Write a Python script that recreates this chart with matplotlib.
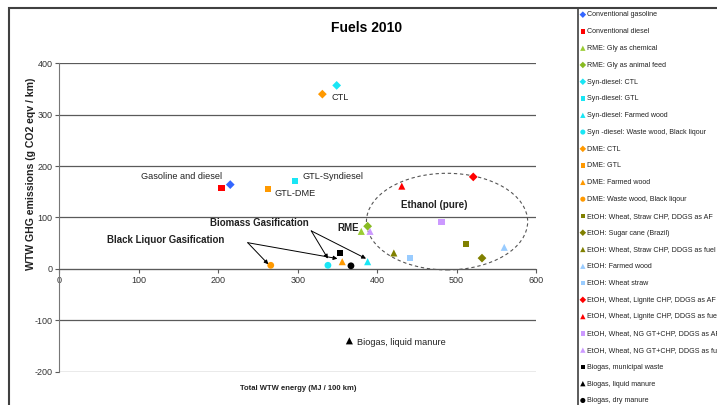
import matplotlib
matplotlib.use("Agg")
import matplotlib.pyplot as plt
from matplotlib.patches import Ellipse, Rectangle
from matplotlib.lines import Line2D

plt.rcParams['font.family'] = ['Liberation Sans', 'DejaVu Sans']
plt.rcParams['axes.unicode_minus'] = False

# series (legend order): label, x = total WTW energy, y = WTW GHG
labels = [
    "Conventional gasoline", "Conventional diesel",
    "RME: Gly as chemical", "RME: Gly as animal feed",
    "Syn-diesel: CTL", "Syn-diesel: GTL", "Syn-diesel: Farmed wood",
    "Syn -diesel: Waste wood, Black liqour",
    "DME: CTL", "DME: GTL", "DME: Farmed wood", "DME: Waste wood, Black liqour",
    "EtOH: Wheat, Straw CHP, DDGS as AF", "EtOH: Sugar cane (Brazil)",
    "EtOH: Wheat, Straw CHP, DDGS as fuel", "EtOH: Farmed wood", "EtOH: Wheat straw",
    "EtOH, Wheat, Lignite CHP, DDGS as AF", "EtOH, Wheat, Lignite CHP, DDGS as fuel",
    "EtOH, Wheat, NG GT+CHP, DDGS as AF", "EtOH, Wheat, NG GT+CHP, DDGS as fuel",
    "Biogas, municipal waste", "Biogas, liquid manure", "Biogas, dry manure",
]
energy = [215, 204, 380, 388, 349, 297, 388, 338, 331, 263, 356, 266,
          512, 532, 421, 560, 441, 521, 431, 481, 391, 353, 365, 367]
ghg = [164, 158, 73, 83, 357, 171, 14, 7, 340, 155, 14, 7,
       48, 21, 31, 42, 21, 179, 161, 92, 73, 31, -140, 6]
markers = ['D', 's', '^', 'D', 'D', 's', '^', 'o', 'D', 's', '^', 'o',
           's', 'D', '^', '^', 's', 'D', '^', 's', '^', 's', '^', 'o']
colors = ['#3366ff', '#ff0000', '#99cc33', '#88bb22', '#19e6f5', '#19e6f5', '#19e6f5', '#19e6f5',
          '#ff9900', '#ff9900', '#ff9900', '#ff9900', '#808000', '#808000', '#808000',
          '#99ccff', '#99ccff', '#ff0000', '#ff0000', '#cc99ff', '#cc99ff', 'black', 'black', 'black']
sizes = {'D': 20, 's': 20, '^': 26, 'o': 24}

# annotations: text, x, y, bold
notes = [
    ("CTL", 342, 333, False),
    ("Gasoline and diesel", 102, 180, False),
    ("GTL-Syndiesel", 306, 180, False),
    ("GTL-DME", 271, 146, False),
    ("Biomass Gasification", 189, 89, True),
    ("RME", 350, 80, True),
    ("Black Liquor Gasification", 60, 57, True),
    ("Ethanol (pure)", 430, 124, True),
    ("Biogas, liquid manure", 375, -143, False),
]
# arrows: start -> end
arrows = [((237, 51), (263, 9)), ((237, 51), (350, 20)),
          ((317, 74), (338, 20)), ((317, 74), (386, 20))]

W, H = 717, 405
fig = plt.figure(figsize=(W / 100, H / 100), dpi=100)
ax = fig.add_axes([59.5 / W, 1 - 371.7 / H, 476.5 / W, 308.4 / H])

for lab, x, y, m, c in zip(labels, energy, ghg, markers, colors):
    ax.scatter([x], [y], marker=m, s=sizes[m], color=c, edgecolors='none', label=lab, zorder=3)

ax.set_xlim(0, 600)
ax.set_ylim(-200, 400)
ax.set_xticks(range(0, 601, 100))
ax.set_yticks(range(-200, 401, 100))
ax.yaxis.grid(True, color='#5a5a5a', lw=0.9)
ax.set_axisbelow(True)
for s in ['top', 'right']:
    ax.spines[s].set_visible(False)
ax.spines['bottom'].set_position(('data', 0))
ax.spines['bottom'].set_color('#5a5a5a')
ax.spines['left'].set_color('#777777')
ax.tick_params(axis='both', labelsize=6.5, labelcolor='#333333', color='#5a5a5a',
               length=3, width=0.8, pad=2)

ax.add_patch(Ellipse((488, 92), 203, 188, fill=False, ec='#555555', lw=0.8,
                     ls=(0, (3, 2.5)), zorder=2))

for txt, x, y, b in notes:
    ax.text(x, y, txt, fontsize=7 if b else 6.6, fontweight='bold' if b else 'normal',
            ha='left', va='center', color='#222222', zorder=4)

for start, end in arrows:
    ax.annotate('', xy=end, xytext=start,
                arrowprops=dict(arrowstyle='-|>', color='black', lw=0.7,
                                mutation_scale=6, shrinkA=0, shrinkB=0))

fig.text(367 / W, 1 - 28 / H, "Fuels 2010", fontsize=10, fontweight='bold',
         ha='center', va='center')
fig.text(298 / W, 1 - 389 / H, "Total WTW energy (MJ / 100 km)", fontsize=5.5,
         fontweight='bold', ha='center', va='center', color='#222222')
fig.text(31 / W, 1 - 174 / H, "WTW GHG emissions (g CO2 eqv / km)", fontsize=7.6,
         fontweight='bold', ha='center', va='center', rotation=90, color='#222222')

# chart frame and legend box
fig.add_artist(Rectangle((8.5 / W, -0.1), 800 / W, 1.1 - 7.5 / H, transform=fig.transFigure,
                         fill=False, ec='#404040', lw=1.5))
fig.add_artist(Line2D([578 / W, 578 / W], [0, 1 - 7.5 / H], transform=fig.transFigure,
                      color='#404040', lw=1.2))

ax.legend(loc='upper left', bbox_to_anchor=(580 / W, 1 - 11.5 / H), bbox_transform=fig.transFigure,
          frameon=False, fontsize=5.1, labelspacing=1.38, handletextpad=0.2,
          handlelength=0.8, borderpad=0, borderaxespad=0, markerscale=0.75,
          labelcolor='#222222')

fig.savefig("out.png", dpi=100)
